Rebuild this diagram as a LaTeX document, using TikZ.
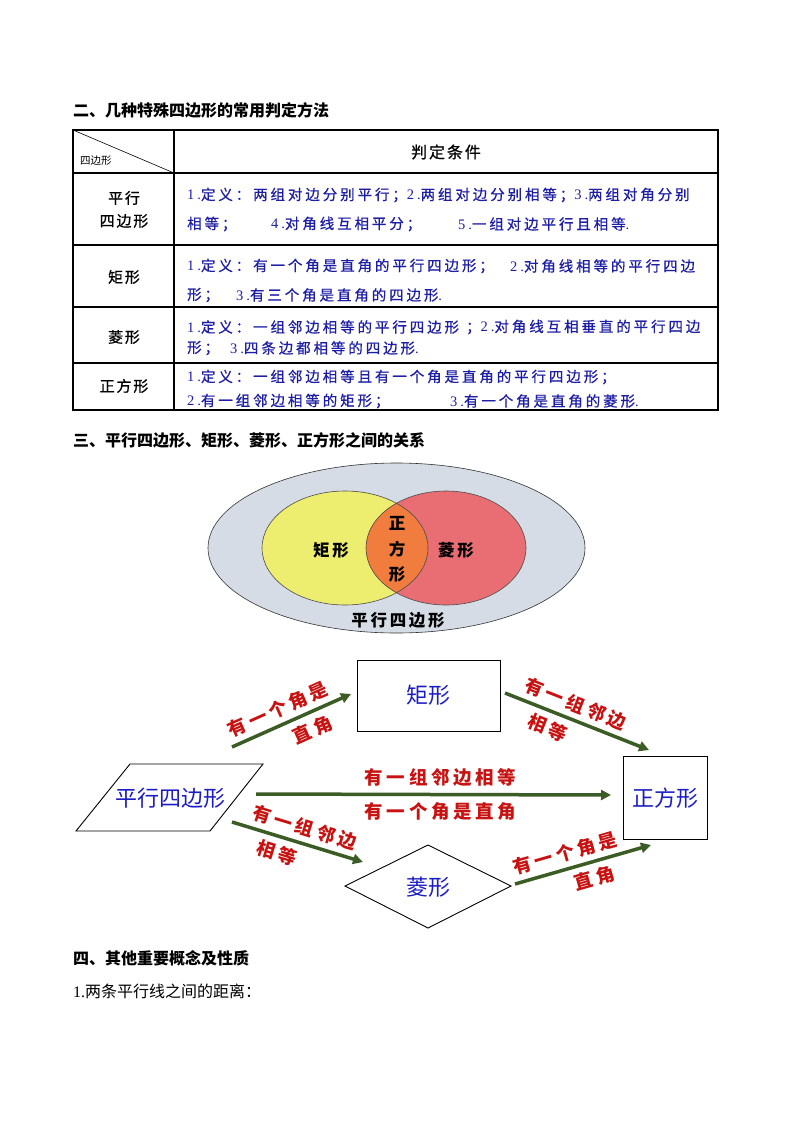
\documentclass[tikz,border=0pt]{standalone}
\usepackage{fontspec}
\setmainfont{Noto Sans CJK SC}
\newfontfamily\tbfont[LetterSpace=20,FakeBold=0.7]{Noto Sans CJK SC}
\newfontfamily\tbnum[LetterSpace=20]{Liberation Serif}
\newfontfamily\lblfont[LetterSpace=20]{Noto Sans CJK SC}
\newfontfamily\venfont[LetterSpace=16]{Noto Sans CJK SC}
\newfontfamily\colfont[LetterSpace=12,FakeBold=0.8]{Noto Sans CJK SC}
\newfontfamily\numfont{Liberation Serif}
\usetikzlibrary{arrows.meta,calc}
\newcommand{\nn}[1]{{\tbnum #1}}
\definecolor{tblue}{RGB}{30,30,165}
\definecolor{fblue}{RGB}{28,28,196}
\definecolor{lred}{RGB}{200,18,18}
\definecolor{agreen}{RGB}{60,92,38}
\definecolor{vgray}{RGB}{214,220,229}
\definecolor{vyellow}{RGB}{237,237,112}
\definecolor{vred}{RGB}{232,110,115}
\definecolor{vorange}{RGB}{240,125,62}
\begin{document}
\begin{tikzpicture}[x=1pt,y=-1pt,
  hdr/.style={anchor=west,inner sep=0pt,font=\bfseries\fontsize{16}{18}\selectfont},
  plain/.style={anchor=west,inner sep=0pt,font=\fontsize{16}{18}\selectfont},
  tline/.style={line width=1.1pt,black},
  coltext/.style={inner sep=0pt,font=\colfont\fontsize{15}{17}\selectfont},
  tbtext/.style={anchor=west,inner sep=0pt,text=tblue,font=\tbfont\fontsize{14.5}{16}\selectfont},
  ventext/.style={inner sep=0pt,font=\venfont\bfseries\fontsize{16.5}{18}\selectfont},
  fbox/.style={draw=black,line width=0.9pt,fill=white},
  ftext/.style={inner sep=0pt,text=fblue,font=\fontsize{22}{24}\selectfont},
  arr/.style={draw=agreen,line width=3.5pt,-{Triangle[length=10pt,width=10pt]}},
  lab/.style={inner sep=0pt,text=lred,font=\lblfont\bfseries\fontsize{18.5}{20}\selectfont}
]
\useasboundingbox[fill=white] (0,0) rectangle (794,1123);

% ---------- section 2 header ----------
\node[hdr] (h2) at (73,110) {二、几种特殊四边形的常用判定方法};

% ---------- table ----------
\draw[tline] (73,130) rectangle (718,410);
\draw[tline] (174,130) -- (174,410);
\foreach \yy in {173,245,307,363} \draw[tline] (73,\yy) -- (718,\yy);
\draw[line width=0.6pt] (73,130) -- (174,173);
\node[anchor=west,inner sep=0pt,font=\fontsize{10.5}{12}\selectfont] (c0) at (80,161) {四边形};
\node[coltext,font=\colfont\fontsize{16}{18}\selectfont] (c1) at (446,152) {判定条件};

\node[coltext] (l1a) at (124,198) {平行};
\node[coltext] (l1b) at (124,221) {四边形};
\node[coltext] (l2) at (124,277) {矩形};
\node[coltext] (l3) at (124,337) {菱形};
\node[coltext] (l4) at (124,386) {正方形};

\node[tbtext] (r1a) at (187,195) {\nn{1.}定义：两组对边分别平行；\nn{2.}两组对边分别相等；\nn{3.}两组对角分别};
\node[tbtext] (r1b) at (187,224) {相等；};
\node[tbtext] (r1c) at (271,224) {\nn{4.}对角线互相平分；};
\node[tbtext] (r1d) at (458,224) {\nn{5.}一组对边平行且相等\nn{.}};

\node[tbtext] (r2a) at (187,266) {\nn{1.}定义：有一个角是直角的平行四边形；};
\node[tbtext] (r2b) at (510,266) {\nn{2.}对角线相等的平行四边};
\node[tbtext] (r2c) at (187,295) {形；};
\node[tbtext] (r2d) at (236,295) {\nn{3.}有三个角是直角的四边形\nn{.}};

\node[tbtext] (r3a) at (187,327) {\nn{1.}定义：一组邻边相等的平行四边形};
\node[tbtext] (r3b) at (466,327) {；\nn{2.}对角线互相垂直的平行四边};
\node[tbtext] (r3c) at (187,348) {形；};
\node[tbtext] (r3d) at (230,348) {\nn{3.}四条边都相等的四边形\nn{.}};

\node[tbtext] (r4a) at (187,377) {\nn{1.}定义：一组邻边相等且有一个角是直角的平行四边形；};
\node[tbtext] (r4b) at (187,401) {\nn{2.}有一组邻边相等的矩形；};
\node[tbtext] (r4c) at (450,401) {\nn{3.}有一个角是直角的菱形\nn{.}};

% ---------- section 3 header ----------
\node[hdr] (h3) at (73,440) {三、平行四边形、矩形、菱形、正方形之间的关系};

% ---------- Venn ----------
\draw[fill=vgray,draw=black!80,line width=0.6pt] (396.5,548) ellipse [x radius=188.5,y radius=85];
\fill[vyellow] (345,548) ellipse [x radius=83,y radius=57];
\fill[vred] (446,548) ellipse [x radius=80,y radius=57];
\begin{scope}
  \clip (345,548) ellipse [x radius=83,y radius=57];
  \fill[vorange] (446,548) ellipse [x radius=80,y radius=57];
\end{scope}
\draw[black!70,line width=0.6pt] (345,548) ellipse [x radius=83,y radius=57];
\draw[black!70,line width=0.6pt] (446,548) ellipse [x radius=80,y radius=57];
\node[ventext] (vj) at (331,550) {矩形};
\node[ventext] (vl) at (456,550) {菱形};
\node[ventext] (vz1) at (397,523) {正};
\node[ventext] (vz2) at (397,549) {方};
\node[ventext] (vz3) at (397,574) {形};
\node[ventext] (vp) at (398,620) {平行四边形};

% ---------- flow chart ----------
\draw[fbox] (357,660) rectangle (500,731);
\node[ftext] (jx) at (428.5,695.5) {矩形};
\draw[fbox] (623,756) rectangle (707,839);
\node[ftext] (zfx) at (665,798) {正方形};
\draw[fbox] (130,764) -- (263,764) -- (210,831) -- (76,831) -- cycle;
\node[ftext] (pxsbx) at (170,798) {平行四边形};
\draw[fbox] (345,886) -- (428,845) -- (511,886) -- (428,928) -- cycle;
\node[ftext] (lx) at (428,887) {菱形};

\coordinate (a1s) at (232,747);
\coordinate (a1e) at (351,694);
\coordinate (a2s) at (505,693);
\coordinate (a2e) at (649,750);
\coordinate (a3s) at (256,794);
\coordinate (a3e) at (611,795);
\coordinate (a4s) at (232,822);
\coordinate (a4e) at (363,862);
\coordinate (a5s) at (515,884);
\coordinate (a5e) at (651,845);

\draw[arr] (a1s) -- node[lab,sloped,pos=0.44,above=5pt] {有一个角是} node[lab,sloped,pos=0.62,below=6pt] {直角} (a1e);
\draw[arr] (a2s) -- node[lab,sloped,pos=0.45,above=5pt] {有一组邻边} node[lab,sloped,pos=0.34,below=6pt] {相等} (a2e);
\draw[arr] (a3s) -- node[lab,pos=0.52,above=6pt] {有一组邻边相等} node[lab,pos=0.52,below=6pt] {有一个角是直角} (a3e);
\draw[arr] (a4s) -- node[lab,sloped,pos=0.52,above=5pt] {有一组邻边} node[lab,sloped,pos=0.38,below=6pt] {相等} (a4e);
\draw[arr] (a5s) -- node[lab,sloped,pos=0.4,above=5pt] {有一个角是} node[lab,sloped,pos=0.55,below=6pt] {直角} (a5e);

% ---------- section 4 ----------
\node[hdr] (h4) at (73,958) {四、其他重要概念及性质};
\node[plain] (p1) at (73,991) {{\numfont 1.}两条平行线之间的距离：};
\end{tikzpicture}
\end{document}
